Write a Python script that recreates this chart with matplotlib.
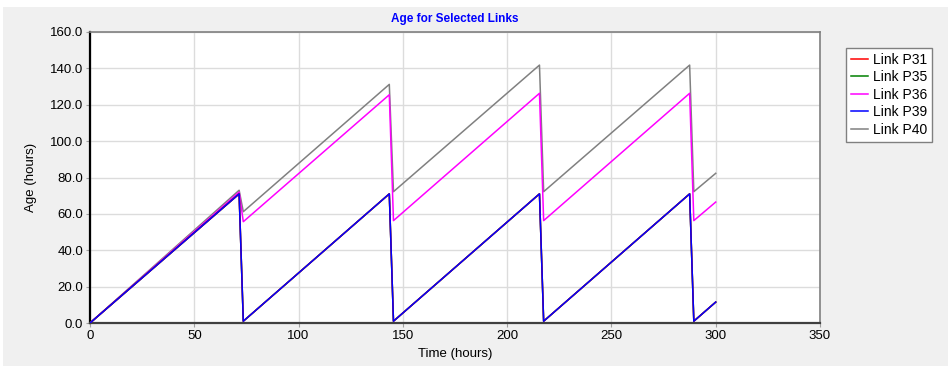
import matplotlib.pyplot as plt
from matplotlib.patches import Rectangle
from matplotlib.ticker import FormatStrFormatter

# breakpoints (time in hours, age in hours)
t_p39 = [0, 71.5, 73.5, 143.5, 145.5, 215.5, 217.5, 287.5, 289.5, 300]
age_p39 = [0, 71, 1, 71, 1, 71, 1, 71, 1, 11.5]

t_p36 = [0, 71.5, 73.5, 143.5, 145.5, 215.5, 217.5, 287.5, 289.5, 300]
age_p36 = [0, 72, 55.7, 125.5, 56.3, 126.3, 56.3, 126.3, 56.3, 66.5]

t_p40 = [0, 71.5, 73.5, 143.5, 145.5, 215.5, 217.5, 287.5, 289.5, 300]
age_p40 = [0, 73, 61.2, 131.2, 72.2, 141.8, 72.2, 141.8, 72.2, 82.3]

# P31 and P35 sit underneath P39
t_p31 = t_p39
age_p31 = age_p39
t_p35 = t_p39
age_p35 = age_p39

x_ticks = [0, 50, 100, 150, 200, 250, 300, 350]
y_ticks = [0, 20, 40, 60, 80, 100, 120, 140, 160]

plt.rcParams['font.family'] = ['Liberation Sans', 'DejaVu Sans']

fig = plt.figure(figsize=(9.48, 3.66), dpi=100, facecolor='white')
# grey panel behind the chart
panel = Rectangle((3 / 948, 0), 1, 1 - 7 / 366, transform=fig.transFigure,
                  facecolor='#f0f0f0', edgecolor='none', zorder=-10)
fig.patches.append(panel)

ax = fig.add_axes([90 / 948, 1 - 323 / 366, 730 / 948, 291 / 366])
ax.set_facecolor('white')

lw = 1.1
ax.plot(t_p40, age_p40, color='#808080', lw=lw, label='Link P40', zorder=2)
ax.plot(t_p36, age_p36, color='#ff00ff', lw=lw, label='Link P36', zorder=3)
ax.plot(t_p35, age_p35, color='#008000', lw=lw, label='Link P35', zorder=4)
ax.plot(t_p31, age_p31, color='#ff0000', lw=lw, label='Link P31', zorder=5)
ax.plot(t_p39, age_p39, color='#0000ff', lw=lw, label='Link P39', zorder=6)

ax.set_xlim(0, 350)
ax.set_ylim(0, 160)
ax.set_xticks(x_ticks)
ax.set_yticks(y_ticks)
ax.yaxis.set_major_formatter(FormatStrFormatter('%.1f'))
ax.tick_params(labelsize=9.5, length=3, color='#a0a0a0', pad=2)
ax.grid(True, color='#dcdcdc', lw=1)
ax.set_axisbelow(True)

ax.spines['left'].set_color('#000000')
ax.spines['left'].set_linewidth(1.6)
ax.spines['bottom'].set_color('#404040')
ax.spines['bottom'].set_linewidth(1.6)
ax.spines['top'].set_color('#808080')
ax.spines['top'].set_linewidth(1.2)
ax.spines['right'].set_color('#808080')
ax.spines['right'].set_linewidth(1.2)

ax.set_title('Age for Selected Links', color='#0000ff', fontsize=8.5,
             fontweight='bold', pad=7)
ax.set_xlabel('Time (hours)', fontsize=9.5, labelpad=4)
ax.set_ylabel('Age (hours)', fontsize=9.5, labelpad=9)

handles, labels = ax.get_legend_handles_labels()
order = ['Link P31', 'Link P35', 'Link P36', 'Link P39', 'Link P40']
hmap = dict(zip(labels, handles))
leg = ax.legend([hmap[k] for k in order], order, loc='upper left',
                bbox_to_anchor=(846 / 948, 1 - 48 / 366), bbox_transform=fig.transFigure,
                fontsize=10, frameon=True, fancybox=False, framealpha=1,
                edgecolor='#808080', handlelength=1.2, handletextpad=0.4,
                labelspacing=0.25, borderpad=0.35, borderaxespad=0)
leg.get_frame().set_linewidth(1.0)

fig.savefig('out.png', dpi=100, facecolor=fig.get_facecolor())
